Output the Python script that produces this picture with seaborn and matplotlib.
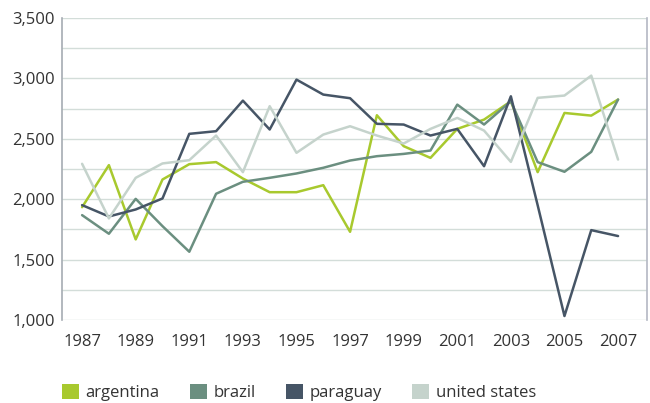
import matplotlib
matplotlib.use("Agg")
import matplotlib.pyplot as plt
from matplotlib.patches import Patch
import seaborn as sns
import pandas as pd

years = list(range(1987, 2008))
argentina = [1934, 2282, 1667, 2163, 2290, 2307, 2171, 2058, 2058, 2116, 1730,
             2695, 2439, 2342, 2582, 2659, 2811, 2224, 2714, 2692, 2825]
brazil = [1868, 1714, 2003, 1777, 1565, 2045, 2144, 2177, 2213, 2260, 2320,
          2356, 2375, 2403, 2783, 2618, 2811, 2307, 2227, 2392, 2825]
paraguay = [1951, 1857, 1915, 2006, 2541, 2563, 2816, 2577, 2990, 2866, 2836,
            2624, 2618, 2527, 2582, 2273, 2852, 1950, 1033, 1744, 1695]
united_states = [2293, 1841, 2177, 2296, 2323, 2527, 2224, 2770, 2384, 2535, 2604,
                 2527, 2461, 2582, 2673, 2568, 2309, 2839, 2858, 3023, 2328]
series_names = ["argentina", "brazil", "paraguay", "united states"]
colors = ["#a8c92e", "#6b8f80", "#465566", "#c5d3cc"]
xticks = list(range(1987, 2008, 2))
yticks = list(range(1000, 3501, 500))

df = pd.DataFrame({
    "year": years * 4,
    "value": argentina + brazil + paraguay + united_states,
    "country": sum([[n] * len(years) for n in series_names], []),
})

sns.set_theme(style="white")
plt.rcParams["font.family"] = ["Open Sans", "DejaVu Sans"]

FS = 12
fig = plt.figure(figsize=(6.5, 4.03), dpi=100)
ax = fig.add_axes([62 / 650, (403 - 320) / 403, (647 - 62) / 650, (320 - 18) / 403])

sns.lineplot(data=df, x="year", y="value", hue="country", palette=colors,
             hue_order=series_names, linewidth=1.8, ax=ax, legend=False)

ax.set_xlim(1986.25, 2008.08)
ax.set_ylim(1000, 3500)
ax.set_xticks(xticks)
ax.set_xticklabels([str(t) for t in xticks])
ax.set_yticks(yticks)
ax.set_yticklabels([f"{t:,}" for t in yticks])
ax.set_yticks(list(range(1250, 3500, 500)), minor=True)
ax.grid(True, which="both", axis="y", color="#d3ddd9", linewidth=1)
ax.set_axisbelow(True)
ax.set_xlabel("")
ax.set_ylabel("")
for s in ["top", "bottom"]:
    ax.spines[s].set_visible(False)
ax.spines["left"].set_color("#a6acb3")
ax.spines["right"].set_color("#b4b8c4")
ax.spines["left"].set_linewidth(1.2)
ax.spines["right"].set_linewidth(1.2)
ax.tick_params(axis="both", which="both", length=0, labelsize=FS, colors="#333333")
ax.tick_params(axis="x", pad=10)
ax.tick_params(axis="y", pad=5)

handles = [Patch(facecolor=c, edgecolor="none", label=n) for c, n in zip(colors, series_names)]
fig.legend(handles=handles, loc="lower left", bbox_to_anchor=(55 / 650, -5 / 403), ncol=4,
           frameon=False, fontsize=FS, handlelength=1.02, handleheight=1.02,
           handletextpad=0.42, columnspacing=1.8, labelcolor="#333333",
           borderaxespad=0.0, borderpad=0.4)

fig.savefig("out.png", dpi=100)
